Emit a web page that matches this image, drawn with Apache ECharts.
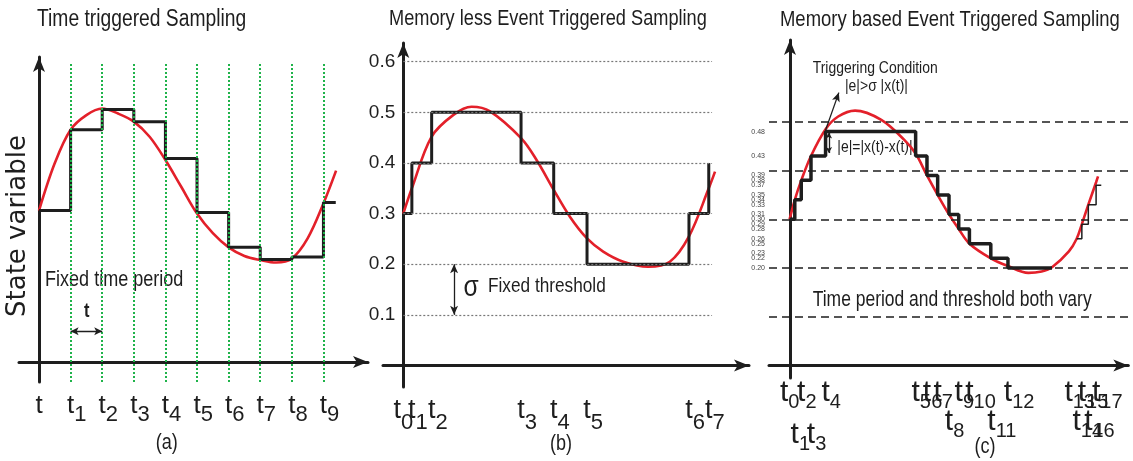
<!DOCTYPE html>
<html>
<head>
<meta charset="utf-8">
<script src="https://cdn.jsdelivr.net/npm/echarts@6/dist/echarts.min.js"></script>
<style>
  html, body { margin: 0; padding: 0; background: #fff; }
  #chart { width: 1133px; height: 461px; }
</style>
</head>
<body>
<div id="chart"></div>
<script>
// ---- (a) time triggered sampling ----
const tickTimesA = [0, 1, 2, 3, 4, 5, 6, 7, 8, 9];
const tickNamesA = ['t', 't1', 't2', 't3', 't4', 't5', 't6', 't7', 't8', 't9'];
const holdTimesA = [0, 1, 2, 3, 4, 5, 6, 7, 8, 9, 9.39];
const holdValuesA = [0.30, 0.46, 0.50, 0.476, 0.403, 0.296, 0.227, 0.203, 0.208, 0.316, 0.316];
const curveTimesA = [0, 0.5, 1, 1.5, 2, 2.5, 3, 3.5, 4, 4.5, 5, 5.5, 6, 6.5, 7, 7.5, 8, 8.5, 9, 9.4];
const curveValuesA = [0.30, 0.394, 0.46, 0.489, 0.502, 0.492, 0.476, 0.446, 0.40, 0.347, 0.294, 0.255, 0.227, 0.21, 0.202, 0.197, 0.205, 0.245, 0.314, 0.379];

// ---- (b) memory less event triggered ----
const tickTimesB = [0, 0.26, 0.86, 3.57, 4.56, 5.57, 8.66, 9.26];
const tickNamesB = ['t0', 't1', 't2', 't3', 't4', 't5', 't6', 't7'];
const holdValuesB = [0.3, 0.4, 0.5, 0.4, 0.3, 0.2, 0.3, 0.4];
const levelsB = [0.1, 0.2, 0.3, 0.4, 0.5, 0.6];
const curveTimesB = [0, 0.26, 0.86, 1.52, 2.07, 2.63, 3.57, 4.04, 4.56, 5.05, 5.57, 6.06, 6.67, 7.42, 8.08, 8.66, 9.26, 9.45];
const curveValuesB = [0.30, 0.35, 0.452, 0.495, 0.511, 0.502, 0.449, 0.406, 0.347, 0.294, 0.251, 0.225, 0.205, 0.195, 0.205, 0.255, 0.35, 0.383];

// ---- (c) memory based event triggered ----
const tickTimesC = [0, 0.16, 0.36, 0.66, 1.11, 3.89, 4.24, 4.57, 4.92, 5.22, 5.55, 6.21, 6.74, 8.61, 8.86, 9.02, 9.22, 9.46];
const tickNamesC = ['t0', 't1', 't2', 't3', 't4', 't5', 't6', 't7', 't8', 't9', 't10', 't11', 't12', 't13', 't14', 't15', 't16', 't17'];
const holdTimesC = [0, 0.16, 0.36, 0.66, 1.11, 3.89, 4.24, 4.57, 4.92, 5.22, 5.55, 6.21, 6.74, 8.10];
const holdValuesC = [0.30, 0.34, 0.38, 0.43, 0.48, 0.43, 0.39, 0.35, 0.31, 0.28, 0.25, 0.22, 0.20, 0.20];
const holdTimesC2 = [8.86, 9.02, 9.22, 9.46, 9.62];
const holdValuesC2 = [0.26, 0.29, 0.33, 0.37, 0.37];
const levelsC = [0.1, 0.2, 0.3, 0.4, 0.5];
const levelLabelsC = [0.48, 0.43, 0.39, 0.38, 0.37, 0.35, 0.34, 0.33, 0.31, 0.30, 0.29, 0.28, 0.26, 0.25, 0.23, 0.22, 0.20];
const curveTimesC = [0, 0.16, 0.36, 0.66, 1.11, 1.5, 2.02, 2.83, 3.54, 3.89, 4.24, 4.57, 4.92, 5.22, 5.55, 6.21, 6.74, 7.37, 7.78, 8.10, 8.62, 8.86, 9.02, 9.22, 9.46, 9.52];
const curveValuesC = [0.30, 0.34, 0.38, 0.43, 0.485, 0.511, 0.523, 0.504, 0.463, 0.435, 0.39, 0.35, 0.31, 0.28, 0.25, 0.22, 0.204, 0.19, 0.193, 0.2015, 0.234, 0.26, 0.29, 0.33, 0.376, 0.388];
// which row each tick label of (c) sits in (staggered)
const labelRowsC = [0, 2, 0, 2, 0, 0, 0, 0, 1, 0, 0, 1, 0, 0, 1, 0, 1, 0];

const FONT = '"Liberation Sans", Arial, sans-serif';
const NARROW_X = 0.82; // squeeze Arial-like text to look like Arial Narrow
const INK = '#1e1e1e';
const RED = '#e3202a';
const GREEN = '#1fb34a';

const zip = (xs, ys) => xs.map((x, i) => [x, ys[i]]);

// rich text styles for "t" + subscript tick labels
function tickRich(mainSize, subSize, drop, offsets) {
  const rich = {
    p1: { width: subSize * 0.556, fontSize: subSize },
    p2: { width: subSize * 1.112, fontSize: subSize }
  };
  offsets.forEach((off, r) => {
    rich['m' + r] = { fontSize: mainSize, fontFamily: FONT, color: INK, verticalAlign: 'top', padding: [off, 0, 0, 0] };
    rich['s' + r] = { fontSize: subSize, fontFamily: FONT, color: INK, verticalAlign: 'top', padding: [off + drop, 0, 0, 0] };
  });
  return rich;
}

function tickFormatter(times, names, rows) {
  return function (value) {
    const i = times.findIndex(t => Math.abs(t - value) < 1e-6);
    if (i < 0) return ' ';
    const sub = names[i].slice(1);
    const r = rows ? rows[i] : 0;
    if (!sub) return '{m' + r + '|t}';
    // pad on the left so the "t" itself sits on the sample instant (t0 is left as is)
    const pad = times[i] === 0 ? '' : '{p' + sub.length + '| }';
    return pad + '{m' + r + '|t}{s' + r + '|' + sub + '}';
  };
}

const axisLine = {
  show: true, onZero: false,
  symbol: ['none', 'arrow'], symbolSize: [9, 15],
  lineStyle: { color: INK, width: 3 }
};

// axes sit on the other axis' zero: shift them inwards from the grid edge
const zeroShift = (min, max, px) => -(-min) / (max - min) * px;

function xAxisCfg(gi, min, max, yMin, yMax, gridH, times, names, rows, margin, rich) {
  return {
    gridIndex: gi, type: 'value', min: min, max: max,
    offset: zeroShift(yMin, yMax, gridH),
    axisLine: axisLine, axisTick: { show: false }, splitLine: { show: false },
    axisLabel: {
      // blank labels at both ends keep the real first/last labels from being dropped
      customValues: [min].concat(times, [max]),
      margin: margin, hideOverlap: false,
      formatter: tickFormatter(times, names, rows), rich: rich
    }
  };
}

function yAxisCfg(gi, min, max, xMin, xMax, gridW, label) {
  return {
    gridIndex: gi, type: 'value', min: min, max: max,
    offset: zeroShift(xMin, xMax, gridW),
    axisLine: axisLine, axisTick: { show: false }, splitLine: { show: false },
    axisLabel: Object.assign({ hideOverlap: false, showMinLabel: true, showMaxLabel: true }, label)
  };
}

function greenGuides(gi, times, lo, hi) {
  return {
    type: 'line', xAxisIndex: gi, yAxisIndex: gi, data: [], z: 1, silent: true,
    markLine: {
      silent: true, symbol: 'none', animation: false, label: { show: false },
      lineStyle: { color: GREEN, type: [2, 2], width: 2 },
      data: times.map(t => [{ coord: [t, lo] }, { coord: [t, hi] }])
    }
  };
}

function arrowLine(gi, from, to, both, size) {
  return {
    type: 'line', xAxisIndex: gi, yAxisIndex: gi, data: [], z: 5, silent: true,
    markLine: {
      silent: true, animation: false, label: { show: false },
      symbol: [both ? 'arrow' : 'none', 'arrow'], symbolSize: size,
      lineStyle: { color: INK, type: 'solid', width: 1.3 },
      data: [[{ coord: from }, { coord: to }]]
    }
  };
}

function holdSeries(gi, data, width) {
  return {
    type: 'line', xAxisIndex: gi, yAxisIndex: gi, data: data, step: 'end',
    symbol: 'none', z: 4, lineStyle: { color: INK, width: width }
  };
}

function curveSeries(gi, data) {
  return {
    type: 'line', xAxisIndex: gi, yAxisIndex: gi, data: data, smooth: 0.35,
    symbol: 'none', z: 3, lineStyle: { color: RED, width: 2.6 }
  };
}

function text(x, y, str, size, extra) {
  return {
    type: 'text', x: x, y: y, scaleX: NARROW_X, silent: true,
    style: Object.assign({ text: str, fontSize: size, fontFamily: FONT, fill: INK, align: 'left', verticalAlign: 'top' }, extra || {})
  };
}

const gA = { left: 19, top: 57, width: 349, height: 325 };
const gB = { left: 383, top: 43, width: 366, height: 344 };
const gC = { left: 769, top: 40, width: 366, height: 338 };
const rA = { x: [-0.633, 10.41], y: [-0.0396, 0.604] };
const rB = { x: [-0.615, 10.48], y: [-0.0425, 0.637] };
const rC = { x: [-0.636, 10.455], y: [-0.0257, 0.668] };

const option = {
  animation: false,
  backgroundColor: '#fff',
  grid: [gA, gB, gC],
  xAxis: [
    xAxisCfg(0, rA.x[0], rA.x[1], rA.y[0], rA.y[1], gA.height, tickTimesA, tickNamesA, null, 31, tickRich(26, 22, 11.4, [0])),
    xAxisCfg(1, rB.x[0], rB.x[1], rB.y[0], rB.y[1], gB.height, tickTimesB, tickNamesB, null, 31.7, tickRich(27, 22, 14.5, [0])),
    xAxisCfg(2, rC.x[0], rC.x[1], rC.y[0], rC.y[1], gC.height, tickTimesC, tickNamesC, labelRowsC, 12.5, tickRich(30, 20, 15, [0, 28.7, 42]))
  ],
  yAxis: [
    yAxisCfg(0, rA.y[0], rA.y[1], rA.x[0], rA.x[1], gA.width, { show: false }),
    yAxisCfg(1, rB.y[0], rB.y[1], rB.x[0], rB.x[1], gB.width,
      { customValues: levelsB, margin: 8, fontSize: 19, fontFamily: FONT, color: INK, formatter: v => v.toFixed(1) }),
    yAxisCfg(2, rC.y[0], rC.y[1], rC.x[0], rC.x[1], gC.width,
      { customValues: levelLabelsC, margin: 25, fontSize: 7, fontFamily: FONT, color: '#444', formatter: v => v.toFixed(2) })
  ],
  series: [
    // (a)
    greenGuides(0, tickTimesA.slice(1), -0.0396, 0.594),
    arrowLine(0, [1, 0.061], [2, 0.061], true, [6, 8]),
    curveSeries(0, zip(curveTimesA, curveValuesA)),
    holdSeries(0, zip(holdTimesA, holdValuesA), 3),

    // (b)
    {
      type: 'line', xAxisIndex: 1, yAxisIndex: 1, data: [], z: 1, silent: true,
      markLine: {
        silent: true, symbol: 'none', animation: false, label: { show: false },
        lineStyle: { color: '#777', type: [2, 2], width: 1.2 },
        data: levelsB.map(v => [{ coord: [0, v] }, { coord: [9.36, v] }])
      }
    },
    greenGuides(1, tickTimesB.slice(1), -0.0445, 0.6235),
    arrowLine(1, [1.54, 0.2], [1.54, 0.1], true, [6, 9]),
    curveSeries(1, zip(curveTimesB, curveValuesB)),
    holdSeries(1, zip(tickTimesB, holdValuesB), 3),

    // (c)
    {
      type: 'line', xAxisIndex: 2, yAxisIndex: 2, data: [], z: 1, silent: true,
      markLine: {
        silent: true, symbol: 'none', animation: false, label: { show: false },
        lineStyle: { color: INK, type: [8, 5], width: 1.5 },
        data: levelsC.map(v => ({ yAxis: v }))
      }
    },
    greenGuides(2, tickTimesC.slice(1), -0.03, 0.625),
    arrowLine(2, [1.21, 0.478], [1.21, 0.436], true, [5, 6]),
    arrowLine(2, [1.11, 0.483], [1.52, 0.560], false, [6, 9]),
    curveSeries(2, zip(curveTimesC, curveValuesC)),
    holdSeries(2, zip(holdTimesC, holdValuesC), 3.5),
    holdSeries(2, zip(holdTimesC2, holdValuesC2), 1.5)
  ],
  graphic: [
    text(37, 8, 'Time triggered Sampling', 23.5),
    text(389, 8, 'Memory less Event Triggered Sampling', 22.2),
    text(780, 8, 'Memory based Event Triggered Sampling', 22.5),
    {
      type: 'text', x: 18.3, y: 226, rotation: Math.PI / 2, silent: true,
      style: { text: 'State variable', fontSize: 26, fontFamily: '"DejaVu Sans", sans-serif', fill: INK, align: 'center', verticalAlign: 'middle' }
    },
    text(45, 268.7, 'Fixed time period', 22),
    text(86.7, 301, 't', 20, { align: 'center', fontWeight: 'bold' }),
    text(471, 273, 'σ', 30, { align: 'center' }),
    text(488, 275.5, 'Fixed threshold', 21),
    text(812.7, 59.6, 'Triggering Condition', 17),
    text(845, 77.6, '|e|>σ |x(t)|', 17),
    text(837.3, 138.6, '|e|=|x(t)-x(t)|', 17),
    text(812.7, 290, 'Time period and threshold both vary', 21.3),
    text(166.7, 432.4, '(a)', 22, { align: 'center' }),
    text(561, 433, '(b)', 22, { align: 'center' }),
    text(985, 436.4, '(c)', 22, { align: 'center' })
  ]
};

const chart = echarts.init(document.getElementById('chart'));
chart.setOption(option);
window.addEventListener('resize', () => chart.resize());
</script>
</body>
</html>
